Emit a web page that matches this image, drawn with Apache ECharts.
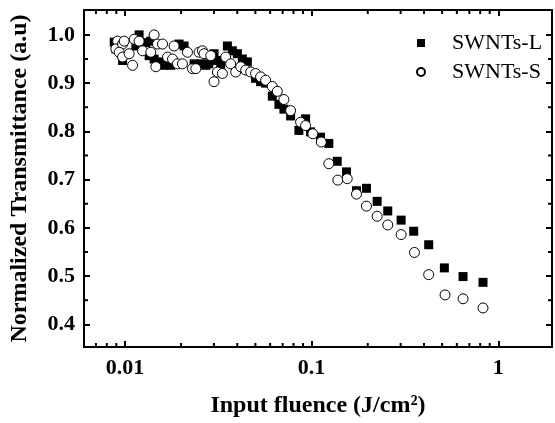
<!DOCTYPE html>
<html>
<head>
<meta charset="utf-8">
<script src="https://cdn.jsdelivr.net/npm/echarts@6/dist/echarts.min.js"></script>
<style>html,body{margin:0;padding:0;background:#fff;}#c{width:555px;height:423px;}</style>
</head>
<body>
<div id="c"></div>
<script>
// ---- data ----
const seriesNames = ['SWNTs-L', 'SWNTs-S'];
const fluenceL = [0.00877,0.00895,0.00972,0.01192,0.01145,0.01295,0.01377,0.01349,0.01434,0.01526,0.01623,0.01762,0.01951,0.02075,0.02348,0.02549,0.02711,0.02813,0.03003,0.03131,0.03261,0.03541,0.03765,0.04005,0.04259,0.04530,0.05012,0.05332,0.05675,0.06163,0.06684,0.07109,0.07723,0.08553,0.09289,0.09878,0.1117,0.1237,0.1372,0.1539,0.1740,0.1968,0.2245,0.2559,0.3018,0.3524,0.4240,0.5143,0.6475,0.8284];
const transL  = [0.985,0.971,0.947,1.000,0.977,0.984,0.987,0.957,0.950,0.944,0.937,0.937,0.981,0.977,0.940,0.940,0.937,0.940,0.961,0.947,0.937,0.977,0.967,0.961,0.950,0.944,0.910,0.903,0.900,0.873,0.856,0.846,0.832,0.802,0.826,0.799,0.788,0.775,0.738,0.716,0.677,0.682,0.655,0.635,0.616,0.593,0.565,0.517,0.499,0.487];
const fluenceS = [0.00914,0.00895,0.00972,0.00991,0.00932,0.00972,0.01054,0.01100,0.01122,0.01192,0.01244,0.01377,0.01434,0.01465,0.01496,0.01591,0.01692,0.01800,0.01835,0.01913,0.02034,0.02164,0.02301,0.02398,0.02496,0.02603,0.02655,0.02884,0.03003,0.03131,0.03330,0.03468,0.03686,0.03922,0.04171,0.04437,0.04720,0.05012,0.05332,0.05675,0.06163,0.06554,0.07109,0.07723,0.08734,0.09289,0.1016,0.1127,0.1237,0.1382,0.1552,0.1740,0.1968,0.2245,0.2559,0.3018,0.3555,0.4240,0.5188,0.6475,0.8284];
const transS  = [0.987,0.971,0.981,0.987,0.964,0.954,0.961,0.937,0.991,0.987,0.967,0.964,1.000,0.934,0.981,0.981,0.954,0.950,0.977,0.940,0.940,0.964,0.930,0.930,0.964,0.967,0.961,0.957,0.903,0.923,0.920,0.954,0.940,0.923,0.934,0.927,0.923,0.920,0.913,0.906,0.893,0.883,0.866,0.843,0.819,0.812,0.795,0.778,0.733,0.699,0.702,0.670,0.645,0.624,0.606,0.586,0.549,0.503,0.461,0.453,0.434];
const xMajorTicks = [0.01, 0.1, 1];
const xMinorTicks = [0.007,0.008,0.009,0.02,0.03,0.04,0.05,0.06,0.07,0.08,0.09,0.2,0.3,0.4,0.5,0.6,0.7,0.8,0.9];
const yMajorTicks = [0.4, 0.5, 0.6, 0.7, 0.8, 0.9, 1.0];
const yMinorTicks = [0.45, 0.55, 0.65, 0.75, 0.85, 0.95];
const xTitle = 'Input fluence (J/cm²)';
const yTitle = 'Normalized Transmittance (a.u)';

// ---- chart ----
const X_MIN = 0.00604, X_MAX = 1.94, Y_MIN = 0.353, Y_MAX = 1.0516;
const FONT = '"Liberation Serif", "Times New Roman", serif';
const chart = echarts.init(document.getElementById('c'), null, {renderer: 'canvas'});

function zipXY(xs, ys) { return xs.map((x, i) => [x, ys[i]]); }

const commonLine = {show: true, lineStyle: {color: '#000', width: 2}};
const tickStyle = {color: '#000', width: 2};

const option = {
  animation: false,
  backgroundColor: '#fff',
  grid: {left: 83, right: 3, top: 10, bottom: 68, containLabel: false},
  legend: {
    data: seriesNames,
    orient: 'vertical',
    left: 411, top: 27,
    itemWidth: 8, itemHeight: 8, itemGap: 7,
    textStyle: {fontFamily: FONT, fontSize: 22, color: '#000', padding: [0, 0, 0, 22], lineHeight: 22}
  },
  xAxis: [
    {
      type: 'log', logBase: 10, min: X_MIN, max: X_MAX, position: 'bottom',
      name: xTitle, nameLocation: 'middle', nameGap: 47,
      nameTextStyle: {fontFamily: FONT, fontSize: 24, fontWeight: 'bold', color: '#000'},
      axisLine: commonLine,
      axisTick: {show: true, inside: true, length: 6, lineStyle: tickStyle, customValues: xMajorTicks},
      axisLabel: {fontFamily: FONT, fontSize: 22, fontWeight: 'bold', color: '#000', margin: 10, customValues: xMajorTicks,
        formatter: v => (xMajorTicks.some(t => Math.abs(t - v) / t < 1e-6) ? String(v) : '')},
      splitLine: {show: false}, minorTick: {show: false}
    },
    {
      type: 'log', logBase: 10, min: X_MIN, max: X_MAX, position: 'top',
      axisLine: commonLine,
      axisTick: {show: true, inside: true, length: 6, lineStyle: tickStyle, customValues: xMajorTicks},
      axisLabel: {show: false}, splitLine: {show: false}
    }
  ],
  yAxis: [
    {
      type: 'value', min: Y_MIN, max: Y_MAX, position: 'left',
      name: yTitle, nameLocation: 'middle', nameGap: 52, nameRotate: 90,
      nameTextStyle: {fontFamily: FONT, fontSize: 24, fontWeight: 'bold', color: '#000'},
      axisLine: commonLine,
      axisTick: {show: true, inside: true, length: 6, lineStyle: tickStyle, customValues: yMajorTicks},
      axisLabel: {fontFamily: FONT, fontSize: 22, fontWeight: 'bold', color: '#000', margin: 9, customValues: yMajorTicks,
        formatter: v => v.toFixed(1)},
      splitLine: {show: false}
    },
    {
      type: 'value', min: Y_MIN, max: Y_MAX, position: 'right',
      axisLine: commonLine,
      axisTick: {show: true, inside: true, length: 6, lineStyle: tickStyle, customValues: yMajorTicks},
      axisLabel: {show: false}, splitLine: {show: false}
    }
  ],
  series: [
    {
      name: seriesNames[0], type: 'scatter', xAxisIndex: 0, yAxisIndex: 0,
      symbol: 'rect', symbolSize: 9, z: 3,
      itemStyle: {color: '#000', opacity: 1},
      data: zipXY(fluenceL, transL)
    },
    {
      name: seriesNames[1], type: 'scatter', xAxisIndex: 0, yAxisIndex: 0,
      symbol: 'circle', symbolSize: 10, z: 4,
      itemStyle: {color: '#fff', borderColor: '#000', borderWidth: 1, opacity: 1},
      data: zipXY(fluenceS, transS)
    },
    {
      type: 'custom', xAxisIndex: 0, yAxisIndex: 0, silent: true, z: 5,
      data: xMinorTicks.map(v => [v, Y_MIN]),
      renderItem: function (params, api) {
        const x = api.value(0);
        const pb = api.coord([x, Y_MIN]);
        const pt = api.coord([x, Y_MAX]);
        return {type: 'group', children: [
          {type: 'line', shape: {x1: pb[0], y1: pb[1], x2: pb[0], y2: pb[1] - 4}, style: {stroke: '#000', lineWidth: 2}},
          {type: 'line', shape: {x1: pt[0], y1: pt[1], x2: pt[0], y2: pt[1] + 4}, style: {stroke: '#000', lineWidth: 2}}
        ]};
      }
    },
    {
      type: 'custom', xAxisIndex: 0, yAxisIndex: 0, silent: true, z: 5,
      data: yMinorTicks.map(v => [X_MIN, v]),
      renderItem: function (params, api) {
        const y = api.value(1);
        const pl = api.coord([X_MIN, y]);
        const pr = api.coord([X_MAX, y]);
        return {type: 'group', children: [
          {type: 'line', shape: {x1: pl[0], y1: pl[1], x2: pl[0] + 4, y2: pl[1]}, style: {stroke: '#000', lineWidth: 2}},
          {type: 'line', shape: {x1: pr[0], y1: pr[1], x2: pr[0] - 4, y2: pr[1]}, style: {stroke: '#000', lineWidth: 2}}
        ]};
      }
    }
  ]
};
chart.setOption(option);
</script>
</body>
</html>
